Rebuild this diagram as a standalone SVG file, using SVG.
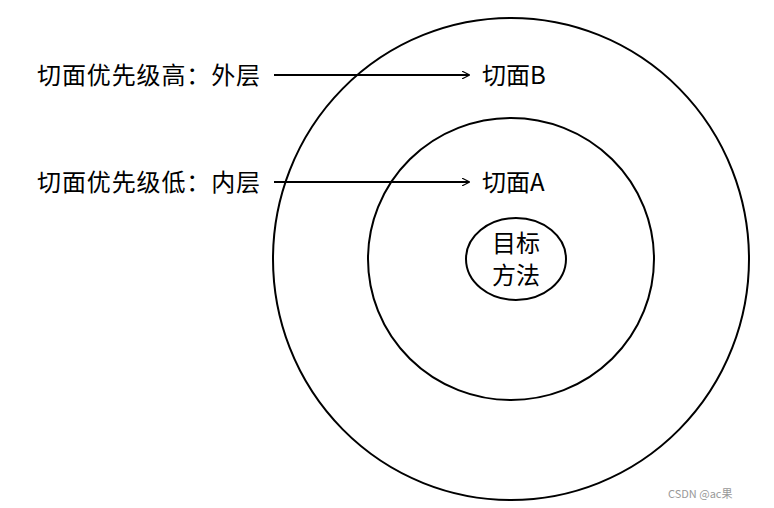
<svg xmlns="http://www.w3.org/2000/svg" width="774" height="508" viewBox="0 0 774 508">
<style>
.c{fill:none;stroke:#000;stroke-width:2}
.t{font-family:"Noto Sans CJK SC","Noto Sans",sans-serif;font-size:24px;fill:#000}
.e{stroke:#000;stroke-width:2;fill:none}
</style>
<defs><marker id="a" viewBox="0 0 10 10" refX="9" refY="5" markerWidth="8" markerHeight="8" orient="auto" markerUnits="userSpaceOnUse"><path d="M0,0L10,5L0,10" fill="none" stroke="#000" stroke-width="1.5"/></marker></defs>
<rect width="774" height="508" fill="#fff"/>
<g id="outer"><ellipse class="c" cx="511" cy="259" rx="238" ry="241"/><text class="t" x="482" y="84">切面B</text></g>
<g id="middle"><ellipse class="c" cx="511" cy="259" rx="143" ry="141"/><text class="t" x="482" y="191">切面A</text></g>
<g id="inner"><ellipse class="c" cx="516" cy="259" rx="50" ry="41"/><text class="t" x="516" y="252" font-size="21" text-anchor="middle">目标</text><text class="t" x="516" y="284" font-size="21" text-anchor="middle">方法</text></g>
<g id="label1"><text class="t" x="37" y="84" textLength="223">切面优先级高：外层</text></g>
<g id="label2"><text class="t" x="37" y="191" textLength="223">切面优先级低：内层</text></g>
<g id="connectors"><line class="e" x1="274" y1="75" x2="469" y2="75" marker-end="url(#a)"/><line class="e" x1="274" y1="182" x2="469" y2="182" marker-end="url(#a)"/></g>
<text x="668" y="498" font-family="Noto Sans CJK SC,sans-serif" font-size="11" fill="#999">CSDN @ac果</text>
</svg>
